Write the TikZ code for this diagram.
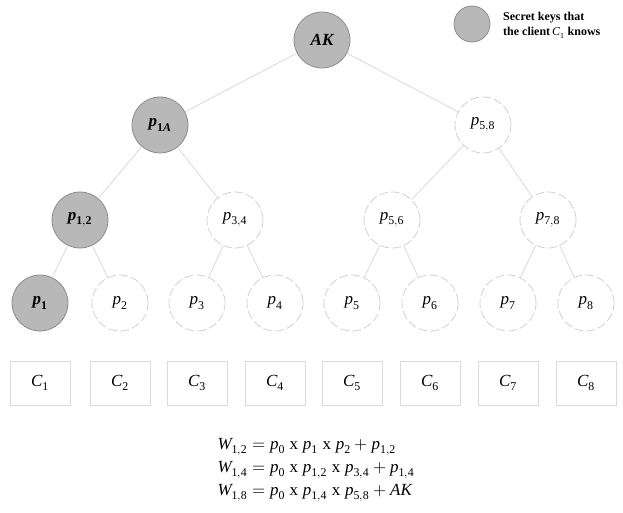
\documentclass[tikz,border=0pt]{standalone}
\usepackage{fontspec}
\setmainfont{Liberation Serif}
\usepackage{unicode-math}
\setmathfont{Latin Modern Math}
\setmathfont[range={it/{latin,Latin}}]{Liberation Serif Italic}
\setmathfont[range={up/{num}}]{Liberation Serif}
\setmathfont[range={bfit/{latin,Latin}}]{Liberation Serif Bold Italic}
\setmathfont[range={bfup/{num}}]{Liberation Serif Bold}
\begin{document}
\begin{tikzpicture}[x=1pt,y=-1pt,
  known/.style={circle, minimum size=56pt, inner sep=0pt, fill=black!28, draw=black!45, line width=0.8pt, font=\fontsize{17}{17}\selectfont},
  unknown/.style={circle, minimum size=56pt, inner sep=0pt, draw=black!18, dash pattern=on 9pt off 3pt, line width=0.8pt, font=\fontsize{17}{17}\selectfont},
  client/.style={rectangle, minimum width=60pt, minimum height=44pt, inner sep=0pt, draw=black!14, line width=0.6pt, font=\fontsize{17}{17}\selectfont},
  edge/.style={draw=black!15, line width=0.8pt},
  eq/.style={anchor=west, font=\fontsize{17}{19}\selectfont}
]
\useasboundingbox (0,0) rectangle (623,513);
% tree nodes
\node[known] (ak) at (322,40) {$\symbfit{AK}$};
\node[known] (p14) at (160,125) {$\symbfit{p}_{\symbf{1}\symbfit{A}}$};
\node[unknown] (p58) at (483,125) {$p_{5,8}$};
\node[known] (p12) at (80,220) {$\symbfit{p}_{\symbf{1,2}}$};
\node[unknown] (p34) at (235,220) {$p_{3,4}$};
\node[unknown] (p56) at (392,220) {$p_{5,6}$};
\node[unknown] (p78) at (548,220) {$p_{7,8}$};
\node[known] (p1) at (40,303) {$\symbfit{p}_{\symbf{1}}$};
\node[unknown] (p2) at (120,303) {$p_2$};
\node[unknown] (p3) at (197,303) {$p_3$};
\node[unknown] (p4) at (275,303) {$p_4$};
\node[unknown] (p5) at (352,303) {$p_5$};
\node[unknown] (p6) at (430,303) {$p_6$};
\node[unknown] (p7) at (508,303) {$p_7$};
\node[unknown] (p8) at (586,303) {$p_8$};
% edges
\draw[edge] (ak) -- (p14);
\draw[edge] (ak) -- (p58);
\draw[edge] (p14) -- (p12);
\draw[edge] (p14) -- (p34);
\draw[edge] (p58) -- (p56);
\draw[edge] (p58) -- (p78);
\draw[edge] (p12) -- (p1);
\draw[edge] (p12) -- (p2);
\draw[edge] (p34) -- (p3);
\draw[edge] (p34) -- (p4);
\draw[edge] (p56) -- (p5);
\draw[edge] (p56) -- (p6);
\draw[edge] (p78) -- (p7);
\draw[edge] (p78) -- (p8);
% clients
\node[client] (c1) at (40,383) {$C_1$};
\node[client] (c2) at (120,383) {$C_2$};
\node[client] (c3) at (197,383) {$C_3$};
\node[client] (c4) at (275,383) {$C_4$};
\node[client] (c5) at (352,383) {$C_5$};
\node[client] (c6) at (430,383) {$C_6$};
\node[client] (c7) at (508,383) {$C_7$};
\node[client] (c8) at (586,383) {$C_8$};
% legend
\node[known, minimum size=36pt] (leg) at (472,24) {};
\node[anchor=west, align=left, inner sep=0pt, font=\fontsize{12}{15}\selectfont\bfseries] (legtext) at (503,25) {Secret keys that\\the client$\,C_1$ knows};
% equations
\node[eq] (e1) at (214,447) {$W_{1,2} = p_0 \;\mathrm{x}\; p_1 \;\mathrm{x}\; p_2 + p_{1,2}$};
\node[eq] (e2) at (214,470) {$W_{1,4} = p_0 \;\mathrm{x}\; p_{1,2} \;\mathrm{x}\; p_{3,4} + p_{1,4}$};
\node[eq] (e3) at (214,493) {$W_{1,8} = p_0 \;\mathrm{x}\; p_{1,4} \;\mathrm{x}\; p_{5,8} + AK$};
\end{tikzpicture}
\end{document}
